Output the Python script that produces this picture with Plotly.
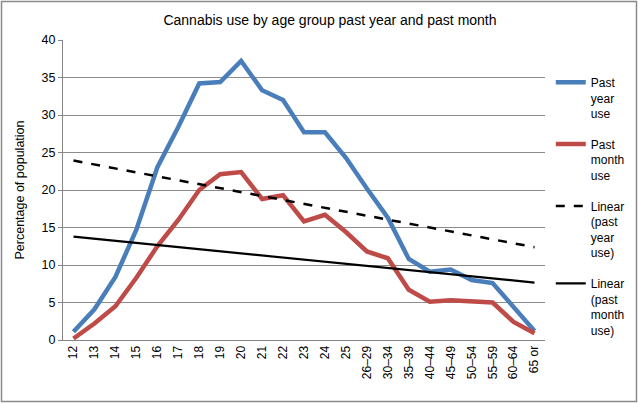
import numpy as np
import plotly.graph_objects as go

ages = ["12", "13", "14", "15", "16", "17", "18", "19", "20", "21", "22", "23", "24", "25",
        "26–29", "30–34", "35–39", "40–44", "45–49", "50–54", "55–59", "60–64", "65 or"]
past_year = [1.1, 4.1, 8.4, 14.7, 23.0, 28.4, 34.2, 34.4, 37.2, 33.3, 32.0, 27.7, 27.7, 24.3,
             20.2, 16.3, 10.8, 9.1, 9.4, 8.0, 7.6, 4.3, 1.2]
past_month = [0.2, 2.2, 4.5, 8.3, 12.5, 16.0, 20.0, 22.1, 22.4, 18.8, 19.3, 15.8, 16.7, 14.4,
              11.8, 10.9, 6.7, 5.1, 5.3, 5.1, 5.0, 2.4, 0.9]
y_ticks = [0, 5, 10, 15, 20, 25, 30, 35, 40]

idx = np.arange(len(ages))
fy = np.polyval(np.polyfit(idx, past_year, 1), idx)
fm = np.polyval(np.polyfit(idx, past_month, 1), idx)

FONT = "Liberation Sans, Arial, sans-serif"
fig = go.Figure()
fig.add_trace(go.Scatter(x=ages, y=past_year, mode="lines", name="Past<br>year<br>use",
                         line=dict(color="#4A7EBB", width=4.5), legendgroup="a"))
fig.add_trace(go.Scatter(x=ages, y=past_month, mode="lines", name="Past<br>month<br>use",
                         line=dict(color="#BE4B48", width=4.5), legendgroup="b"))
fig.add_trace(go.Scatter(x=ages, y=fy, mode="lines", name="Linear<br>(past<br>year<br>use)",
                         line=dict(color="black", width=2.5, dash="dash"), legendgroup="c"))
fig.add_trace(go.Scatter(x=ages, y=fm, mode="lines", name="Linear<br>(past<br>month<br>use)",
                         line=dict(color="black", width=2.2), legendgroup="d"))

L, R, T, B = 63, 93, 40, 63
W, H = 638, 403
pw, ph = W - L - R, H - T - B

fig.update_layout(
    width=W, height=H,
    margin=dict(l=L, r=R, t=T, b=B, autoexpand=False),
    paper_bgcolor="white", plot_bgcolor="white",
    font=dict(family=FONT, size=12, color="black"),
    title=dict(text="Cannabis use by age group past year and past month",
               x=330 / W, xanchor="center", y=1 - 20 / H, yanchor="middle",
               font=dict(size=14)),
    showlegend=True,
    legend=dict(x=1.012, xanchor="left", y=(340 - 68) / ph, yanchor="top",
                font=dict(size=12), tracegroupgap=12, valign="top",
                bgcolor="rgba(0,0,0,0)", itemwidth=30),
    xaxis=dict(type="category", tickangle=-90, showgrid=False, showline=True,
               linecolor="#868686", linewidth=1, ticks="", tickfont=dict(size=12),
               range=[-0.5, len(ages) - 0.5], automargin=False),
    yaxis=dict(range=[0, 40], tickvals=y_ticks, showgrid=True, gridcolor="#8c8c8c",
               gridwidth=1, showline=True, linecolor="#868686", ticks="outside",
               ticklen=4, tickcolor="#868686", tickfont=dict(size=12.5),
               title=dict(text="Percentage of population", font=dict(size=12.5), standoff=14),
               zeroline=False, automargin=False),
)

fig.add_shape(type="rect", xref="paper", yref="paper",
              x0=(1.5 - L) / pw, x1=(636.5 - L) / pw,
              y0=(340 - 401.5) / ph, y1=(340 - 1.5) / ph,
              line=dict(color="#8a8a8a", width=1.5), fillcolor="rgba(0,0,0,0)", layer="below")

fig.write_html("out.html", config={"displayModeBar": False},
               post_script="document.body.style.margin='0';")
